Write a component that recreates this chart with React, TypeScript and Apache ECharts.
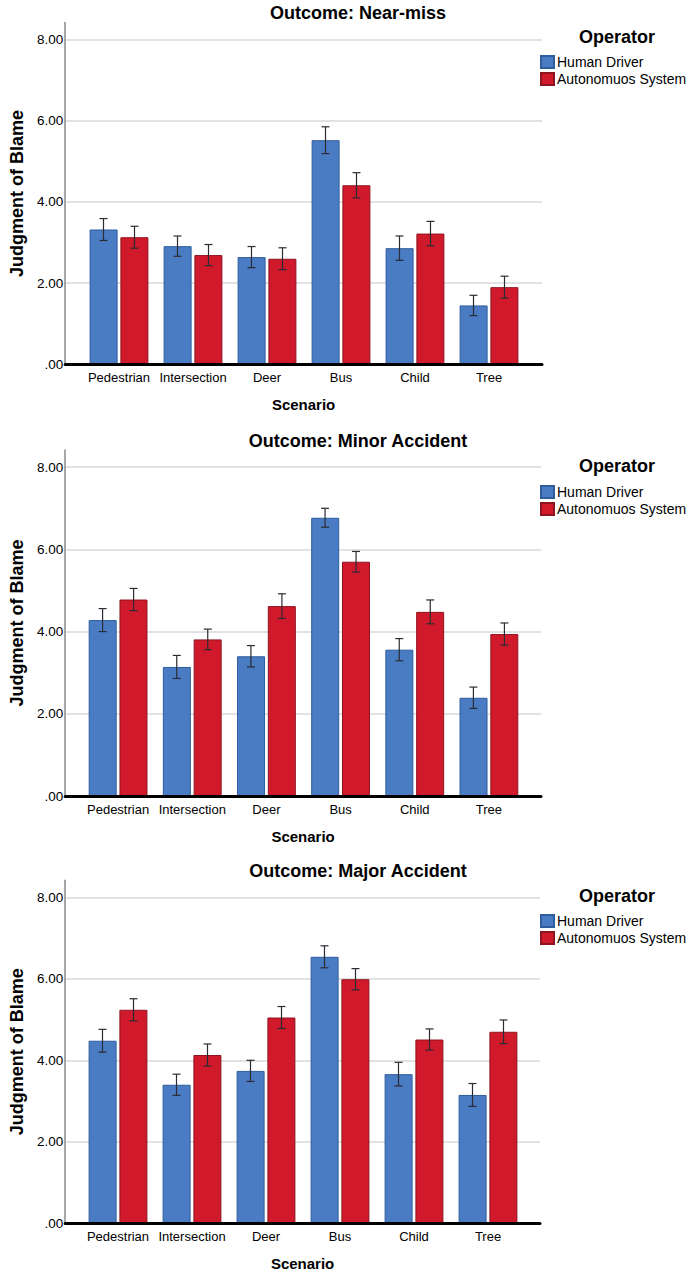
import React, { useEffect, useRef } from "react";
import * as echarts from "echarts";

const scenarios = ["Pedestrian", "Intersection", "Deer", "Bus", "Child", "Tree"];
const operators = ["Human Driver", "Autonomuos System"];
const yTickLabels = [".00", "2.00", "4.00", "6.00", "8.00"];

const nearMissHuman = [3.32, 2.91, 2.64, 5.52, 2.86, 1.45];
const nearMissAuto = [3.13, 2.69, 2.6, 4.41, 3.22, 1.9];
const nearMissHumanErr = [0.27, 0.25, 0.26, 0.33, 0.3, 0.25];
const nearMissAutoErr = [0.27, 0.26, 0.27, 0.31, 0.3, 0.27];

const minorHuman = [4.28, 3.14, 3.4, 6.77, 3.56, 2.39];
const minorAuto = [4.78, 3.81, 4.62, 5.7, 4.48, 3.94];
const minorHumanErr = [0.28, 0.28, 0.26, 0.23, 0.27, 0.26];
const minorAutoErr = [0.27, 0.25, 0.3, 0.25, 0.29, 0.27];

const majorHuman = [4.48, 3.4, 3.74, 6.54, 3.66, 3.15];
const majorAuto = [5.24, 4.13, 5.05, 5.99, 4.51, 4.7];
const majorHumanErr = [0.28, 0.26, 0.26, 0.27, 0.29, 0.28];
const majorAutoErr = [0.27, 0.27, 0.27, 0.26, 0.26, 0.29];

const titles = ["Outcome: Near-miss", "Outcome: Minor Accident", "Outcome: Major Accident"];

const FONT = "Liberation Sans, Arial, sans-serif";
const BLUE = "#4a7cc4";
const RED = "#d0192b";
const YMAX = 8.42;

const panels = [
  { title: titles[0], human: nearMissHuman, auto: nearMissAuto, hErr: nearMissHumanErr, aErr: nearMissAutoErr,
    zeroY: 364.3, unit: 40.6, axisX: 64, right: 542, bandL: 82, bandR: 526, titleY: 14, opY: 38, legY: 63 },
  { title: titles[1], human: minorHuman, auto: minorAuto, hErr: minorHumanErr, aErr: minorAutoErr,
    zeroY: 796, unit: 41.1, axisX: 62, right: 541, bandL: 81, bandR: 526, titleY: 442, opY: 467, legY: 493 },
  { title: titles[2], human: majorHuman, auto: majorAuto, hErr: majorHumanErr, aErr: majorAutoErr,
    zeroY: 1223.3, unit: 40.75, axisX: 62, right: 540, bandL: 81, bandR: 525, titleY: 872, opY: 897, legY: 922 },
];

function buildOption() {
  const grid: any[] = [];
  const xAxis: any[] = [];
  const yAxis: any[] = [];
  const series: any[] = [];
  const title: any[] = [];
  const legend: any[] = [];

  panels.forEach((p, pi) => {
    const h = YMAX * p.unit;
    const top = p.zeroY - h;
    const a = pi * 2;
    const b = pi * 2 + 1;
    grid.push({ left: p.axisX, top, width: p.right - p.axisX, height: h });
    grid.push({ left: p.bandL, top, width: p.bandR - p.bandL, height: h });

    xAxis.push({
      gridIndex: a, type: "value", min: 0, max: 1, z: 5,
      axisLine: { show: true, lineStyle: { color: "#000", width: 3 } },
      axisTick: { show: false }, axisLabel: { show: false }, splitLine: { show: false },
      name: "Scenario", nameLocation: "middle", nameGap: 33,
      nameTextStyle: { fontFamily: FONT, fontSize: 15, fontWeight: "bold", color: "#000" },
    });
    xAxis.push({
      gridIndex: b, type: "category", data: scenarios,
      axisLine: { show: false }, axisTick: { show: false }, splitLine: { show: false },
      axisLabel: { fontFamily: FONT, fontSize: 13, color: "#000", margin: 7, interval: 0 },
    });
    yAxis.push({
      gridIndex: a, type: "value", min: 0, max: YMAX, interval: 2,
      axisLine: { show: true, lineStyle: { color: "#8a8a8a", width: 1.5 } },
      axisTick: { show: false },
      axisLabel: {
        fontFamily: FONT, fontSize: 13.5, color: "#000", margin: 2, showMaxLabel: false,
        formatter: (v: number) => (Math.abs(v / 2 - Math.round(v / 2)) < 1e-6 ? yTickLabels[Math.round(v / 2)] ?? "" : ""),
      },
      splitLine: { show: true, showMinLine: false, showMaxLine: false, lineStyle: { color: "#d9d9d9", width: 1.5 } },
      name: "Judgment of Blame", nameLocation: "middle", nameGap: 39,
      nameTextStyle: { fontFamily: FONT, fontSize: 18, fontWeight: "bold", color: "#000" },
    });
    yAxis.push({ gridIndex: b, type: "value", min: 0, max: YMAX, show: false });

    const bars = [
      { name: operators[0], data: p.human, err: p.hErr, color: BLUE, border: "#2f5c9c", off: -15.5 },
      { name: operators[1], data: p.auto, err: p.aErr, color: RED, border: "#8e1420", off: 15.5 },
    ];
    bars.forEach((s) => {
      series.push({
        type: "bar", name: s.name, xAxisIndex: b, yAxisIndex: b, data: s.data,
        barWidth: 28, barGap: "10%",
        itemStyle: { color: s.color, borderColor: s.border, borderWidth: 1 },
      });
    });
    bars.forEach((s) => {
      series.push({
        type: "custom", xAxisIndex: b, yAxisIndex: b, z: 4,
        data: s.data.map((v, i) => [i, v - s.err[i], v + s.err[i]]),
        encode: { x: 0, y: [1, 2] },
        renderItem: (params: any, api: any) => {
          const idx = api.value(0);
          const x = api.coord([idx, 0])[0] + s.off;
          const lo = api.coord([idx, api.value(1)])[1];
          const hi = api.coord([idx, api.value(2)])[1];
          const st = { stroke: "#2b2b33", lineWidth: 1.2 };
          return {
            type: "group",
            children: [
              { type: "line", shape: { x1: x, y1: lo, x2: x, y2: hi }, style: st },
              { type: "line", shape: { x1: x - 4, y1: hi, x2: x + 4, y2: hi }, style: st },
              { type: "line", shape: { x1: x - 4, y1: lo, x2: x + 4, y2: lo }, style: st },
            ],
          };
        },
      });
    });

    title.push({
      text: p.title, left: 358, top: p.titleY - 10, textAlign: "center", padding: 0,
      textStyle: { fontFamily: FONT, fontSize: 18, fontWeight: "bold", color: "#000" },
    });
    title.push({
      text: "Operator", left: 617, top: p.opY - 10, textAlign: "center", padding: 0,
      textStyle: { fontFamily: FONT, fontSize: 18, fontWeight: "bold", color: "#000" },
    });
    legend.push({
      data: operators, orient: "vertical", left: 540, top: p.legY - 8, padding: 0,
      itemWidth: 13, itemHeight: 12, itemGap: 3, icon: "rect", selectedMode: false,
      textStyle: { fontFamily: FONT, fontSize: 14, color: "#000", padding: [0, 0, 0, -2] },
    });
  });

  return { animation: false, backgroundColor: "#fff", grid, xAxis, yAxis, series, title, legend };
}

export default function App() {
  const ref = useRef<HTMLDivElement>(null);
  useEffect(() => {
    if (!ref.current) return;
    const chart = echarts.init(ref.current, undefined, { renderer: "svg" });
    chart.setOption(buildOption() as any);
    return () => chart.dispose();
  }, []);
  return (
    <div
      ref={ref}
      style={{ position: "absolute", left: 0, top: 0, width: 692, height: 1273, background: "#fff" }}
    />
  );
}
